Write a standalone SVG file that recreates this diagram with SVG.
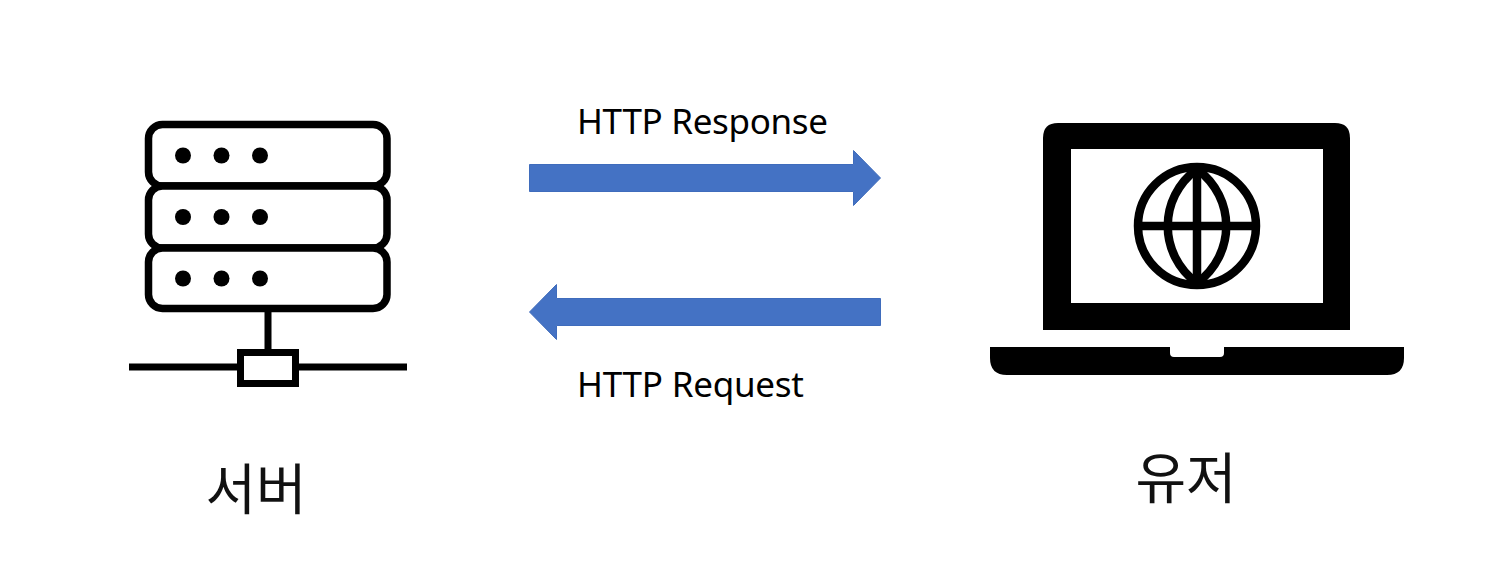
<svg xmlns="http://www.w3.org/2000/svg" width="1496" height="570" viewBox="0 0 1496 570">
<style>
.ln{fill:none;stroke:#000;stroke-width:7}
.row{fill:#fff;stroke:#000;stroke-width:7.500}
.dot{fill:#000}
.arrow{fill:#4472c4;stroke:#3f6cbc;stroke-width:1}
.lat{font-family:"Noto Sans","Noto Sans CJK KR",sans-serif;font-size:35px;fill:#000}
.kr{font-family:"Noto Sans CJK KR","Noto Sans",sans-serif;font-size:55px;fill:#111}
</style>
<rect width="1496" height="570" fill="#fff"/>
<g id="server">
<rect class="row" x="148.500" y="124.500" width="238.500" height="61.500" rx="14"/>
<rect class="row" x="148.500" y="186" width="238.500" height="62" rx="14"/>
<rect class="row" x="148.500" y="248" width="238.500" height="60.500" rx="14"/>
<g class="dot">
<circle cx="183" cy="155.500" r="8"/><circle cx="221.500" cy="155.500" r="8"/><circle cx="260" cy="155.500" r="8"/>
<circle cx="183" cy="217" r="8"/><circle cx="221.500" cy="217" r="8"/><circle cx="260" cy="217" r="8"/>
<circle cx="183" cy="278.500" r="8"/><circle cx="221.500" cy="278.500" r="8"/><circle cx="260" cy="278.500" r="8"/>
</g>
<path class="ln" d="M268 312V350M129 367H237M299 367H407"/>
<rect class="ln" x="240.500" y="352.500" width="55" height="31"/>
<text class="kr" x="256" y="509" text-anchor="middle">서버</text>
</g>
<g id="user">
<path d="M1058 123H1335Q1350 123 1350 138V330H1043V138Q1043 123 1058 123Z" fill="#000"/>
<rect x="1071" y="149" width="252" height="154" fill="#fff"/>
<g fill="none" stroke="#000" stroke-width="8.500">
<circle cx="1197" cy="226" r="59"/>
<path d="M1197 169C1158 198 1158 254 1197 283C1236 254 1236 198 1197 169Z" stroke-linejoin="round"/>
<path d="M1197 167V285M1138 226H1256"/>
</g>
<path d="M990 347H1170V353Q1170 357 1174 357H1220Q1224 357 1224 353V347H1404V358Q1404 375 1387 375H1007Q990 375 990 358Z" fill="#000"/>
<text class="kr" x="1186" y="498" text-anchor="middle">유저</text>
</g>
<g id="connectors">
<path class="arrow" d="M529.500 164.500H853.500V150.500L880.500 178L853.500 205.500V191.500H529.500Z"/>
<path class="arrow" d="M880.500 298.500H556.500V284.500L529.500 312L556.500 339.500V325.500H880.500Z"/>
<text class="lat" x="577" y="134" textLength="251">HTTP Response</text>
<text class="lat" x="577" y="397" textLength="227">HTTP Request</text>
</g>
</svg>
